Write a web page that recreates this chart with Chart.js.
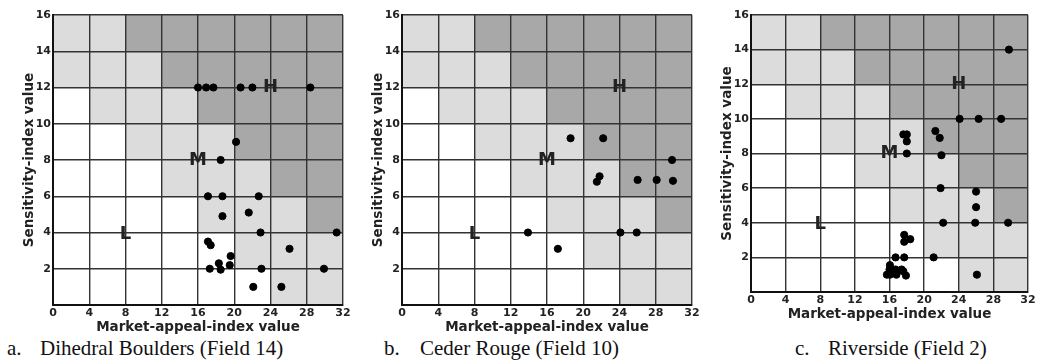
<!DOCTYPE html>
<html lang="en">
<head>
  <meta charset="UTF-8" />
  <title>Market-appeal vs Sensitivity index</title>
  <script src="https://cdn.jsdelivr.net/npm/chart.js"></script>
  <style>
    body {
      margin: 0;
      width: 1041px;
      height: 360px;
      background: #fff;
      position: relative;
      overflow: hidden;
    }
    .panel { position: absolute; top: 0; }
    .caption {
      position: absolute;
      top: 336px;
      font-family: "Liberation Serif", "Times New Roman", serif;
      font-size: 21px;
      color: #111;
      white-space: nowrap;
    }
    .caption span { display: inline-block; width: 33px; }
  </style>
</head>
<body>

  <div class="panel" style="left:0; width:350px; height:336px;"><canvas id="chartA"></canvas></div>
  <div class="panel" style="left:349px; width:350px; height:336px;"><canvas id="chartB"></canvas></div>
  <div class="panel" style="left:698px; width:343px; height:323px;"><canvas id="chartC"></canvas></div>

  <div class="caption" style="left:7px;"><span>a.</span>Dihedral Boulders (Field 14)</div>
  <div class="caption" style="left:384px;"><span style="width:36px">b.</span>Ceder Rouge (Field 10)</div>
  <div class="caption" style="left:795px;"><span>c.</span>Riverside (Field 2)</div>

  <script>
    // axis ticks
    const xTicks = [0, 4, 8, 12, 16, 20, 24, 28, 32];
    const yTicks = [2, 4, 6, 8, 10, 12, 14, 16];

    // zone level of every 4 x 2 cell, rows from y=0 upward (0 = low, 1 = medium, 2 = high)
    const zoneRows = [
      [0, 0, 0, 0, 0, 0, 1, 1],
      [0, 0, 0, 0, 0, 1, 1, 1],
      [0, 0, 0, 0, 1, 1, 1, 2],
      [0, 0, 0, 1, 1, 1, 2, 2],
      [0, 0, 1, 1, 1, 2, 2, 2],
      [0, 1, 1, 1, 2, 2, 2, 2],
      [1, 1, 1, 2, 2, 2, 2, 2],
      [1, 1, 2, 2, 2, 2, 2, 2]
    ];

    // zone letters
    const zoneLetters = ['L', 'M', 'H'];
    const zoneLetterX = [8, 16, 24];
    const zoneLetterY = [3.9, 8, 12];

    // a. Dihedral Boulders (Field 14)
    const fieldA_x = [16.0, 16.9, 17.7, 20.7, 22.0, 28.4, 20.2, 18.5, 17.1, 18.7, 22.7, 18.7, 21.6, 22.9,
                      31.3, 17.1, 17.4, 26.1, 19.6, 18.3, 19.5, 17.3, 18.5, 23.0, 29.9, 22.1, 25.2];
    const fieldA_y = [12, 12, 12, 12, 12, 12, 9, 8, 6, 6, 6, 4.9, 5.1, 4,
                      4, 3.5, 3.3, 3.1, 2.7, 2.3, 2.2, 2, 1.95, 2, 2, 1, 1];

    // b. Ceder Rouge (Field 10)
    const fieldB_x = [18.6, 22.2, 29.8, 21.8, 21.5, 26.0, 28.1, 29.9, 13.9, 24.1, 25.9, 17.2];
    const fieldB_y = [9.2, 9.2, 8, 7.1, 6.8, 6.9, 6.9, 6.85, 4, 4, 4, 3.1];

    // c. Riverside (Field 2)
    const fieldC_x = [29.8, 24.1, 26.3, 28.9, 17.6, 18.0, 18.0, 21.3, 21.8, 18.0, 22.0,
                      21.9, 26.0, 26.0, 22.2, 25.9, 29.7, 17.7, 18.4, 17.7, 16.7, 17.7, 21.1,
                      16.05, 16.0, 16.7, 17.4, 17.6, 15.7, 16.05, 16.8, 17.9, 26.1];
    const fieldC_y = [14, 10, 10, 10, 9.1, 9.1, 8.7, 9.3, 8.9, 8, 7.9,
                      6, 5.8, 4.9, 4, 4, 4, 3.3, 3.05, 2.9, 2, 2, 2,
                      1.55, 1.3, 1.3, 1.3, 1.2, 1.0, 1.0, 1.0, 0.95, 1];

    const zoneColors = ['#ffffff', '#dcdcdc', '#a8a8a8'];

    // shade the cells before grid and points are drawn, letters after
    const zonePlugin = {
      id: 'zones',
      beforeDraw(chart) {
        const { ctx, scales: { x, y } } = chart;
        ctx.save();
        zoneRows.forEach((row, r) => {
          row.forEach((lvl, c) => {
            const x0 = x.getPixelForValue(c * 4), x1 = x.getPixelForValue(c * 4 + 4);
            const y0 = y.getPixelForValue(r * 2 + 2), y1 = y.getPixelForValue(r * 2);
            ctx.fillStyle = zoneColors[lvl];
            ctx.fillRect(x0, y0, x1 - x0, y1 - y0);
          });
        });
        ctx.restore();
      },
      afterDatasetsDraw(chart) {
        const { ctx, scales: { x, y } } = chart;
        ctx.save();
        ctx.font = 'bold 18px "DejaVu Sans", sans-serif';
        ctx.fillStyle = '#222';
        ctx.textAlign = 'center';
        ctx.textBaseline = 'middle';
        zoneLetters.forEach((t, i) => {
          ctx.fillText(t, x.getPixelForValue(zoneLetterX[i]), y.getPixelForValue(zoneLetterY[i]));
        });
        ctx.restore();
      }
    };

    function makeChart(id, xs, ys, rightPad) {
      const points = xs.map((v, i) => ({ x: v, y: ys[i] }));
      const tickFont = { family: '"DejaVu Sans", sans-serif', size: 11, weight: 'bold' };
      const titleFont = { family: '"DejaVu Sans", sans-serif', size: 13.5, weight: 'bold' };
      return new Chart(document.getElementById(id), {
        type: 'scatter',
        data: {
          datasets: [{
            data: points,
            backgroundColor: '#000',
            borderColor: '#000',
            pointRadius: 3.6,
            pointHoverRadius: 3.6
          }]
        },
        plugins: [zonePlugin],
        options: {
          responsive: true,
          maintainAspectRatio: false,
          animation: false,
          events: [],
          layout: { padding: { left: 21, right: rightPad, top: 15, bottom: 0 } },
          plugins: { legend: { display: false }, tooltip: { enabled: false } },
          scales: {
            x: {
              type: 'linear',
              min: 0,
              max: 32,
              afterBuildTicks: (s) => { s.ticks = xTicks.map(v => ({ value: v })); },
              afterFit: (s) => { s.height = 31; s.paddingLeft = 0; s.paddingRight = 0; },
              ticks: { font: tickFont, color: '#222', padding: 2, maxRotation: 0, autoSkip: false },
              grid: { color: '#333', lineWidth: 1.4, drawTicks: false },
              border: { color: '#111', width: 2 },
              title: { display: true, text: 'Market-appeal-index value', font: titleFont, color: '#222', padding: 0 }
            },
            y: {
              type: 'linear',
              min: 0,
              max: 16,
              afterBuildTicks: (s) => { s.ticks = [0].concat(yTicks).map(v => ({ value: v })); },
              afterFit: (s) => { s.width = 32; s.paddingTop = 0; s.paddingBottom = 0; },
              ticks: {
                font: tickFont, color: '#222', padding: 2,
                callback: (v) => (v === 0 ? '' : v)
              },
              grid: { color: '#333', lineWidth: 1.4, drawTicks: false },
              border: { color: '#111', width: 2 },
              title: { display: true, text: 'Sensitivity-index value', font: titleFont, color: '#222', padding: 0 }
            }
          }
        }
      });
    }

    makeChart('chartA', fieldA_x, fieldA_y, 7);
    makeChart('chartB', fieldB_x, fieldB_y, 7);
    makeChart('chartC', fieldC_x, fieldC_y, 13);
  </script>

</body>
</html>
